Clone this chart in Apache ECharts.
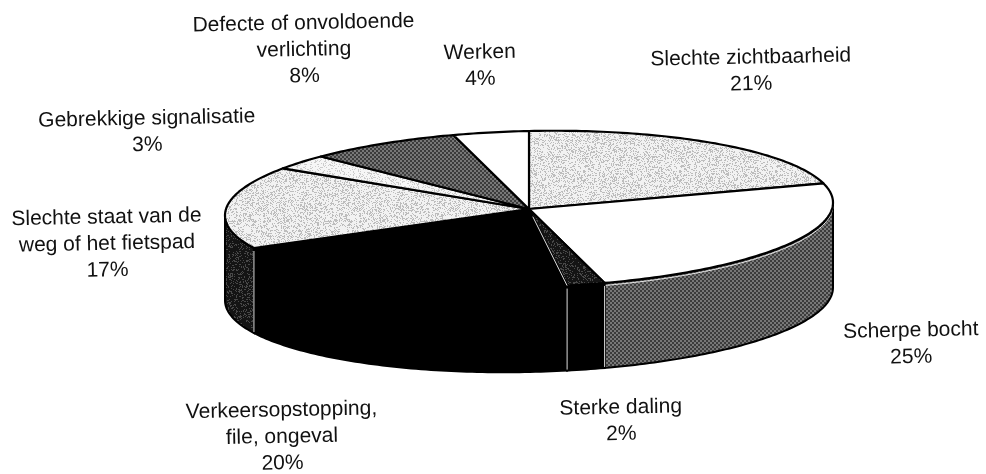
<!DOCTYPE html>
<html>
<head>
<meta charset="utf-8">
<style>
  html, body { margin: 0; padding: 0; background: #fff; }
  #chart { width: 986px; height: 474px; }
</style>
<script src="https://cdn.jsdelivr.net/npm/echarts@6/dist/echarts.min.js"></script>
</head>
<body>
<div id="chart"></div>
<script>
const categories = [
  "Slechte zichtbaarheid",
  "Scherpe bocht",
  "Sterke daling",
  "Verkeersopstopping,\nfile, ongeval",
  "Slechte staat van de\nweg of het fietspad",
  "Gebrekkige signalisatie",
  "Defecte of onvoldoende\nverlichting",
  "Werken",
];
const shares = [21, 25, 2, 20, 17, 3, 8, 4];

// where each label sits, same order as categories
const labelX = [751, 911, 621, 282, 107, 147, 304, 480];
const labelY = [71, 344, 421, 437, 244, 132, 50, 66];

// pie shape, the scan is tilted a little so the ellipse is sheared
const CX = 529;
const CY = 209;
const RX = 304;
const RY = 78;
const DEPTH = 85;
const TILT = 0.021;

function speckle(base, dot, density, size = 96) {
  const canvas = document.createElement("canvas");
  canvas.width = canvas.height = size;
  const ctx = canvas.getContext("2d");
  ctx.fillStyle = base;
  ctx.fillRect(0, 0, size, size);
  ctx.fillStyle = dot;
  for (let y = 0; y < size; y++) {
    for (let x = 0; x < size; x++) {
      const h = ((x * 7919 + y * 104729 + x * y * 31) ^ (x * 2971 + y * 613)) % 100;
      if (Math.abs(h) < density) {
        ctx.fillRect(x, y, 1, 1);
      }
    }
  }
  return { image: canvas, repeat: "repeat" };
}

function checker(dark, light, cell = 2) {
  const canvas = document.createElement("canvas");
  canvas.width = canvas.height = cell * 2;
  const ctx = canvas.getContext("2d");
  ctx.fillStyle = dark;
  ctx.fillRect(0, 0, cell * 2, cell * 2);
  ctx.fillStyle = light;
  ctx.fillRect(0, 0, cell, cell);
  ctx.fillRect(cell, cell, cell, cell);
  return { image: canvas, repeat: "repeat" };
}

const lightSpeckle = speckle("#f2f2f2", "#bdbdbd", 30);
const paleSpeckle = speckle("#f6f6f6", "#cccccc", 22);
const darkSpeckle = speckle("#141414", "#484848", 22);
const greyChecker = checker("#3c3c3c", "#787878");

const topFills = [lightSpeckle, "#ffffff", darkSpeckle, "#000000", lightSpeckle, paleSpeckle, greyChecker, "#ffffff"];
const sideFills = ["#000000", greyChecker, "#000000", "#000000", darkSpeckle, "#000000", "#000000", "#000000"];

function project(deg, drop = 0) {
  const rad = (deg * Math.PI) / 180;
  const x = CX + RX * Math.sin(rad);
  return [x, CY - RY * Math.cos(rad) + drop - TILT * (x - CX)];
}

function arc(from, to, drop = 0) {
  const points = [];
  const steps = Math.max(2, Math.ceil(to - from));
  for (let i = 0; i <= steps; i++) {
    points.push(project(from + ((to - from) * i) / steps, drop));
  }
  return points;
}

function line(points, stroke, lineWidth) {
  return { type: "polyline", shape: { points }, style: { fill: "none", stroke, lineWidth } };
}

function renderSlice(params, api) {
  const i = params.dataIndex;
  const total = shares.reduce((sum, v) => sum + v, 0);
  const before = shares.slice(0, i).reduce((sum, v) => sum + v, 0);
  const start = (before / total) * 360;
  const end = start + (api.value(0) / total) * 360;
  const children = [];

  // the wall is only seen on the front half
  const lo = Math.max(start, 90);
  const hi = Math.min(end, 270);
  if (lo < hi) {
    children.push({
      type: "polygon",
      shape: { points: [...arc(lo, hi), ...arc(lo, hi, DEPTH).reverse()] },
      style: { fill: sideFills[i], stroke: "#000", lineWidth: 2 },
    });
    if (i === 1) {
      children.push(line(arc(lo + 1, hi, 2.5), "#e8e8e8", 1));
    }
    if (start >= 90 && start <= 270) {
      const [x, y] = project(start);
      const offset = i === 1 ? 1.5 : 0;
      children.push(line([[x + offset, y + 3], [x + offset, y + DEPTH - 1]], "#dcdcdc", 1));
    }
  }

  const centre = [CX, CY];
  children.push({
    type: "polygon",
    shape: { points: [centre, ...arc(start, end)] },
    style: { fill: topFills[i], stroke: "#000", lineWidth: 2.2, lineJoin: "round" },
  });
  if (i === 3) {
    const [x, y] = project(start);
    children.push(line([[CX + (x - CX) * 0.1, CY + (y - CY) * 0.1], [x, y]], "#e0e0e0", 1));
  }

  children.push({
    type: "text",
    x: labelX[i],
    y: labelY[i],
    rotation: 0.02,
    style: {
      text: `${categories[i]}\n${api.value(0)}%`,
      x: 0,
      y: 0,
      align: "center",
      verticalAlign: "middle",
      font: '21px "Liberation Sans", Arial, sans-serif',
      lineHeight: 26.5,
      fill: "#111",
    },
  });

  return { type: "group", children };
}

const chart = echarts.init(document.getElementById("chart"));
chart.setOption({
  animation: false,
  backgroundColor: "#fff",
  series: [
    {
      type: "custom",
      coordinateSystem: "none",
      silent: true,
      renderItem: renderSlice,
      data: shares,
    },
  ],
});
</script>
</body>
</html>
